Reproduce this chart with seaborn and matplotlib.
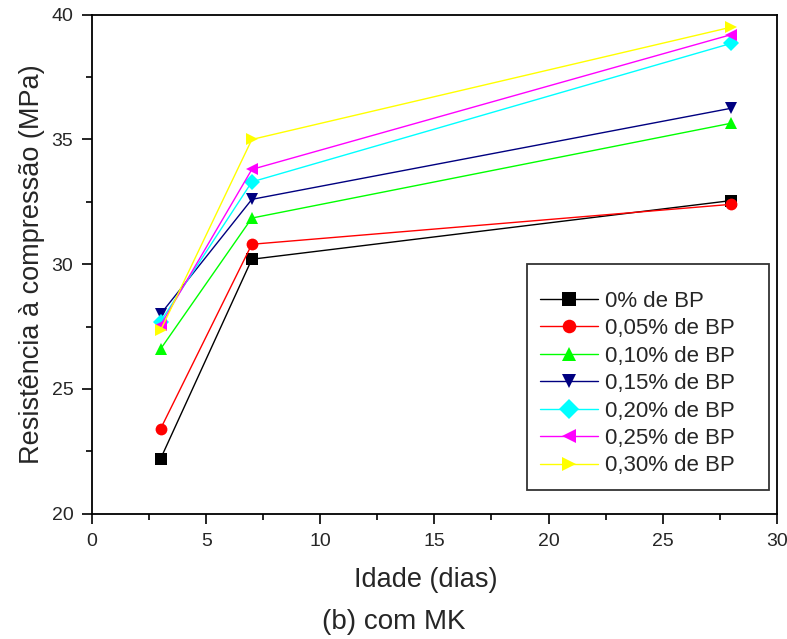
import matplotlib
matplotlib.use("Agg")
import matplotlib.pyplot as plt
from matplotlib.ticker import MultipleLocator
import pandas as pd
import seaborn as sns

# Idade (dias)
idade = [3, 7, 28]

series = ["0% de BP", "0,05% de BP", "0,10% de BP", "0,15% de BP",
          "0,20% de BP", "0,25% de BP", "0,30% de BP"]

bp_000 = [22.2, 30.2, 32.55]
bp_005 = [23.4, 30.8, 32.4]
bp_010 = [26.6, 31.85, 35.65]
bp_015 = [28.0, 32.6, 36.25]
bp_020 = [27.7, 33.3, 38.85]
bp_025 = [27.55, 33.8, 39.2]
bp_030 = [27.35, 35.0, 39.5]

colors = ["#000000", "#ff0000", "#00ff00", "#000080", "#00ffff", "#ff00ff", "#ffff00"]
marker_list = ["s", "o", "^", "v", "D", "<", ">"]

values = [bp_000, bp_005, bp_010, bp_015, bp_020, bp_025, bp_030]
rows = []
for name, vals in zip(series, values):
    for d, v in zip(idade, vals):
        rows.append({"Idade": d, "Resistencia": v, "serie": name})
df = pd.DataFrame(rows)

sns.set_style("ticks")
plt.rcParams["font.family"] = ["Liberation Sans", "DejaVu Sans"]

fig = plt.figure(figsize=(7.87, 6.39), dpi=100)
ax = fig.add_axes([0.117, 0.196, 0.870, 0.781])

sns.lineplot(data=df, x="Idade", y="Resistencia", hue="serie", style="serie",
             hue_order=series, style_order=series,
             palette=dict(zip(series, colors)),
             markers=dict(zip(series, marker_list)), dashes=False,
             markersize=8.5, markeredgewidth=0, linewidth=1, ax=ax)

ax.set_xlim(0, 30)
ax.set_ylim(20, 40)
ax.xaxis.set_major_locator(MultipleLocator(5))
ax.xaxis.set_minor_locator(MultipleLocator(2.5))
ax.yaxis.set_major_locator(MultipleLocator(5))
ax.yaxis.set_minor_locator(MultipleLocator(2.5))
ax.tick_params(which="both", direction="out", width=1.2, color="black")
ax.tick_params(which="major", length=7, labelsize=14)
ax.tick_params(axis="x", which="major", pad=7)
ax.tick_params(axis="y", which="major", pad=6.5)
ax.tick_params(which="minor", length=4)
for s in ax.spines.values():
    s.set_linewidth(1.3)
    s.set_color("black")

ax.set_xlabel("Idade (dias)", fontsize=19.5, labelpad=12)
ax.xaxis.label.set_x(0.488)
ax.set_ylabel("Resistência à compressão (MPa)", fontsize=19.5, labelpad=5)

leg = ax.legend(loc="lower left", bbox_to_anchor=(0.635, 0.048, 0.353, 0),
                mode="expand", fontsize=16, title=" ", title_fontsize=6,
                frameon=True, fancybox=False, edgecolor="black",
                handlelength=2.6, borderpad=0.6, labelspacing=0.29,
                borderaxespad=0, handletextpad=0.3, markerscale=1.15)
leg.get_frame().set_linewidth(1.3)

fig.text(0.5, 0.027, "(b) com MK", ha="center", va="center", fontsize=20)

fig.savefig("out.png", dpi=100)
